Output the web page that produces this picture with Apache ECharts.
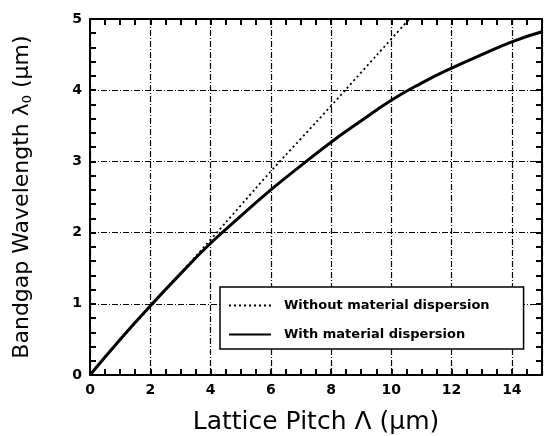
<!DOCTYPE html>
<html>
<head>
<meta charset="utf-8">
<script src="https://cdn.jsdelivr.net/npm/echarts@6/dist/echarts.min.js"></script>
<style>
  html, body { margin: 0; padding: 0; background: #fff; }
  #chart { width: 548px; height: 436px; }
</style>
</head>
<body>
<div id="chart"></div>
<script>
// lattice pitch (um) and bandgap wavelength (um)
const pitchNoDisp = [0, 1, 2, 3, 4, 5, 6, 7, 8, 9, 10, 10.6]
const lambdaNoDisp = [0, 0.49, 0.96, 1.43, 1.9, 2.38, 2.86, 3.32, 3.78, 4.25, 4.72, 5.0]

const pitchDisp = [0, 1, 2, 3, 4, 5, 6, 7, 8, 9, 10, 11, 12, 13, 14, 15]
const lambdaDisp = [0, 0.5, 0.97, 1.42, 1.85, 2.23, 2.6, 2.94, 3.27, 3.57, 3.86, 4.1, 4.31, 4.5, 4.68, 4.82]

const seriesNames = ['Without material dispersion', 'With material dispersion']

const FONT = 'DejaVu Sans'

function zip(xs, ys) {
  return xs.map((x, i) => [x, ys[i]])
}

let chart = echarts.init(document.getElementById('chart'))

let gridLine = {
  show: true,
  lineStyle: { color: '#000', width: 1.2, type: [6, 2, 1, 2] }
}

// one side of the frame; ticks point inward on all four sides
function frameAxis(pos, isX, showLabel) {
  return {
    type: 'value',
    position: pos,
    min: 0,
    max: isX ? 15 : 5,
    interval: isX ? 2 : 1,
    axisLine: { show: true, onZero: false, lineStyle: { color: '#000', width: 2 } },
    axisTick: { show: true, inside: true, length: 6, lineStyle: { color: '#000', width: 2 } },
    minorTick: { show: true, splitNumber: isX ? 4 : 5, length: 6, lineStyle: { color: '#000', width: 2 } },
    axisLabel: {
      show: showLabel,
      color: '#000',
      fontFamily: FONT,
      fontWeight: 'bold',
      fontSize: 14,
      margin: 8,
      showMaxLabel: !isX
    },
    splitLine: showLabel ? gridLine : { show: false }
  }
}

let xBottom = frameAxis('bottom', true, true)
xBottom.name = 'Lattice Pitch \u039B (\u03BCm)'
xBottom.nameLocation = 'middle'
xBottom.nameGap = 35
xBottom.nameTextStyle = { color: '#000', fontFamily: FONT, fontSize: 25 }

let yLeft = frameAxis('left', false, true)
yLeft.name = 'Bandgap Wavelength \u03BB{sub|0} (\u03BCm)'
yLeft.nameLocation = 'middle'
yLeft.nameGap = 56
yLeft.nameTextStyle = {
  color: '#000',
  fontFamily: FONT,
  fontSize: 22,
  rich: {
    sub: { fontFamily: FONT, fontSize: 13, verticalAlign: 'bottom', padding: [10, 0, 0, 0] }
  }
}

let xTop = frameAxis('top', true, false)
let yRight = frameAxis('right', false, false)

let option = {
  animation: false,
  backgroundColor: '#fff',
  grid: { left: 90, right: 6, top: 19, bottom: 61, containLabel: false, outerBoundsMode: 'none' },
  xAxis: [xBottom, xTop],
  yAxis: [yLeft, yRight],
  legend: {
    orient: 'vertical',
    left: 220,
    top: 287,
    padding: [12, 34, 8, 8],
    itemGap: 16,
    itemWidth: 42,
    itemHeight: 10,
    backgroundColor: '#fff',
    borderColor: '#000',
    borderWidth: 1.5,
    itemStyle: { opacity: 0 },
    textStyle: { color: '#000', fontFamily: FONT, fontWeight: 'bold', fontSize: 13, padding: [0, 0, 0, 8] },
    data: seriesNames
  },
  series: [
    {
      name: seriesNames[0],
      type: 'line',
      symbol: 'none',
      smooth: true,
      lineStyle: { color: '#000', width: 1.8, type: [2, 3] },
      itemStyle: { color: '#000' },
      data: zip(pitchNoDisp, lambdaNoDisp),
      z: 3
    },
    {
      name: seriesNames[1],
      type: 'line',
      symbol: 'none',
      smooth: true,
      lineStyle: { color: '#000', width: 3 },
      itemStyle: { color: '#000' },
      data: zip(pitchDisp, lambdaDisp),
      z: 4
    }
  ]
}

chart.setOption(option)
</script>
</body>
</html>
